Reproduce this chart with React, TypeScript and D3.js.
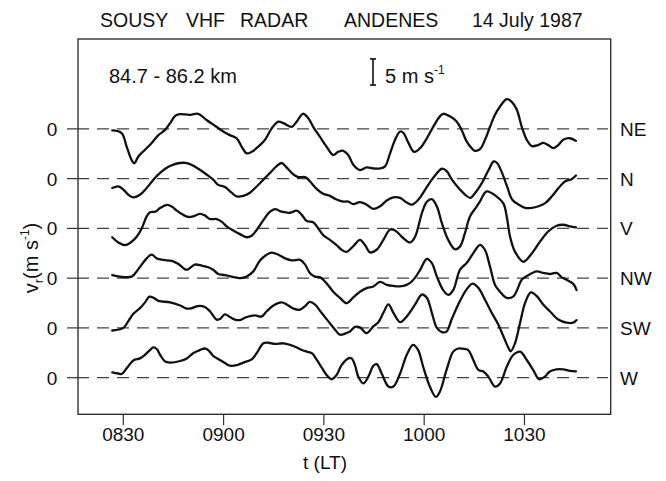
import React from "react";
import * as d3 from "d3";

// radar beam directions, top to bottom
const beams = ["NE", "N", "V", "NW", "SW", "W"];
// time axis, minutes after 08:00
const tickMinutes = [30, 60, 90, 120, 150];
const tickLabels = ["0830", "0900", "0930", "1000", "1030"];
// vertical separation between the zero lines (m/s)
const beamSpacing = 9.55;

// [minutes after 08:00, radial velocity in m/s]
const neData = [[26.7,-0.3],[29.5,-0.8],[31.0,-3.4],[32.5,-6.0],[33.3,-6.6],[34.5,-5.3],[36.5,-4.0],[38.5,-2.7],[40.5,-1.2],[42.5,-0.2],[44.0,1.1],[45.5,2.5],[46.5,2.8],[50.0,2.7],[52.4,2.9],[54.9,1.7],[57.4,0.6],[59.9,-0.5],[61.9,-1.2],[63.9,-1.8],[65.4,-3.4],[66.9,-4.7],[68.4,-4.4],[70.4,-3.4],[72.4,-2.1],[74.4,0.1],[76.4,1.4],[77.9,1.1],[80.4,0.4],[81.9,1.4],[83.7,2.9],[85.3,2.1],[86.8,0.4],[88.8,-1.5],[90.8,-3.4],[92.8,-5.0],[94.3,-4.4],[95.8,-4.2],[97.3,-5.0],[98.8,-6.9],[100.8,-7.9],[102.8,-7.4],[104.8,-7.6],[106.8,-7.6],[108.3,-7.2],[109.8,-4.7],[111.3,-2.1],[112.8,-0.5],[113.8,-0.8],[115.3,-2.7],[117.0,-4.4],[118.8,-3.7],[120.8,-1.8],[122.7,0.4],[124.7,2.4],[125.7,2.9],[127.7,2.4],[129.7,1.4],[131.2,-0.2],[132.7,-2.4],[134.2,-3.7],[135.2,-4.2],[136.7,-3.9],[138.2,-2.1],[139.7,0.4],[141.2,2.7],[142.7,4.3],[144.7,5.7],[146.2,5.2],[147.7,3.7],[149.2,0.4],[150.7,-2.1],[152.2,-3.3],[154.1,-3.1],[155.6,-2.7],[157.1,-3.1],[158.6,-3.7],[160.1,-3.1],[161.6,-2.1],[163.6,-1.8],[165.4,-2.3]];
const nData = [[26.7,-1.8],[28.5,-1.5],[30.0,-2.1],[31.5,-3.1],[33.0,-3.6],[35.0,-3.1],[37.0,-1.8],[39.0,-0.2],[41.0,1.1],[43.0,2.1],[45.0,2.7],[47.0,3.0],[49.0,3.0],[50.9,2.5],[52.9,1.7],[54.9,0.8],[56.9,-0.2],[58.4,-1.2],[60.4,-1.6],[62.4,-2.7],[63.9,-3.4],[65.9,-3.3],[67.9,-2.7],[69.9,-1.5],[71.9,-0.2],[73.9,1.1],[75.9,2.4],[77.4,3.0],[78.9,2.1],[80.9,0.8],[82.3,0.3],[84.4,0.3],[85.8,-0.5],[87.9,-2.0],[89.8,-2.9],[91.8,-3.3],[93.8,-4.0],[95.8,-4.4],[97.3,-4.4],[98.8,-4.9],[100.8,-4.5],[102.8,-5.0],[104.8,-5.8],[106.8,-5.3],[108.8,-4.2],[110.8,-3.6],[112.8,-3.7],[114.8,-4.6],[116.3,-5.0],[118.3,-4.0],[120.3,-2.1],[122.3,-0.2],[124.3,1.4],[125.3,1.9],[126.8,1.4],[128.3,-0.2],[130.3,-1.8],[132.3,-3.1],[133.8,-3.7],[135.3,-2.7],[137.3,-0.8],[139.3,1.7],[140.8,3.3],[141.8,3.0],[143.3,1.1],[144.8,-1.5],[146.3,-4.0],[148.3,-5.0],[150.2,-5.6],[152.2,-5.6],[154.2,-5.3],[156.2,-4.7],[158.2,-3.4],[160.2,-1.8],[162.2,-0.5],[164.1,-0.1],[165.4,0.6]];
const vData = [[26.7,-1.7],[28.5,-2.7],[30.5,-3.2],[32.0,-2.8],[34.0,-1.6],[35.5,0.0],[37.0,2.3],[38.0,3.1],[39.5,3.2],[41.0,3.9],[43.0,4.5],[44.5,4.2],[46.0,3.4],[47.9,2.6],[49.4,2.2],[50.9,2.3],[52.9,2.8],[54.4,2.5],[55.9,1.8],[57.9,1.8],[59.4,1.3],[60.9,0.4],[62.9,-0.4],[64.9,-1.1],[66.9,-1.7],[68.4,-1.4],[69.9,-0.3],[71.9,1.6],[73.9,3.2],[75.4,3.7],[77.4,3.2],[79.9,3.0],[81.9,3.4],[83.4,2.6],[84.9,1.4],[86.8,1.2],[88.3,0.0],[89.8,-1.3],[91.8,-2.2],[93.8,-3.2],[95.3,-4.1],[96.8,-4.5],[98.8,-3.4],[100.8,-2.2],[102.3,-3.2],[103.8,-4.6],[105.8,-4.1],[107.8,-2.2],[109.8,-0.2],[111.3,-0.4],[113.3,-1.6],[115.8,-2.7],[117.3,-1.6],[119.3,2.9],[120.8,5.1],[122.3,5.6],[123.8,4.2],[125.3,1.0],[127.2,-2.2],[129.2,-4.0],[130.7,-3.5],[132.2,-0.9],[133.7,2.3],[135.7,4.2],[136.7,5.2],[138.7,7.1],[141.7,6.1],[143.7,4.8],[144.7,2.3],[145.7,-1.6],[147.2,-4.5],[149.7,-6.4],[152.2,-4.8],[154.7,-2.5],[157.1,-0.6],[159.6,0.5],[161.6,0.7],[163.6,0.4],[165.4,0.2]];
const nwData = [[26.7,0.6],[29.0,0.3],[32.5,0.3],[34.0,1.3],[35.5,2.6],[37.0,3.8],[38.5,4.5],[40.0,3.8],[42.0,3.5],[44.5,3.3],[46.5,2.7],[48.5,1.7],[49.4,1.7],[51.4,2.6],[53.5,2.4],[55.4,2.1],[56.9,1.6],[58.4,0.8],[60.4,0.6],[62.4,0.3],[64.9,0.0],[66.9,0.3],[68.9,1.3],[70.9,3.4],[72.9,4.5],[74.4,4.9],[76.4,4.5],[78.4,3.8],[80.4,3.4],[82.9,3.5],[84.4,2.6],[85.8,1.0],[87.3,0.3],[88.8,0.2],[90.8,-1.0],[92.8,-2.6],[94.8,-3.8],[96.8,-4.8],[98.8,-3.7],[100.8,-2.6],[102.8,-1.9],[104.8,-1.6],[106.8,-0.7],[108.8,-1.3],[110.8,-1.5],[113.8,-1.5],[115.8,-0.9],[117.3,0.1],[118.8,1.6],[120.8,3.7],[122.3,2.9],[123.8,0.3],[125.7,-2.3],[127.2,-3.2],[128.7,-2.3],[130.7,1.6],[132.7,2.9],[134.7,4.8],[136.7,6.4],[138.2,5.4],[139.7,2.2],[141.2,-1.3],[142.7,-2.6],[144.7,-3.8],[146.7,-3.5],[149.2,-0.3],[150.7,0.4],[153.7,1.3],[155.6,1.0],[157.6,0.8],[159.6,1.0],[161.1,0.2],[162.6,-0.3],[164.6,-1.1],[165.6,-2.3]];
const swData = [[26.7,-0.5],[30.0,0.0],[31.5,1.3],[33.0,2.7],[35.0,3.8],[36.5,4.9],[37.8,6.0],[39.0,5.8],[40.5,5.2],[44.0,4.9],[47.0,4.3],[49.0,3.7],[50.5,3.8],[52.4,4.2],[54.4,4.0],[55.9,3.2],[57.9,1.6],[58.9,1.7],[60.4,2.6],[61.9,2.1],[63.4,1.6],[64.9,1.5],[66.9,2.1],[69.4,2.4],[71.4,2.2],[72.9,3.2],[74.9,4.3],[77.4,4.9],[78.9,4.5],[80.9,3.7],[82.9,3.5],[84.4,4.2],[85.8,5.0],[87.3,4.5],[89.3,2.9],[91.3,1.3],[93.3,-0.3],[94.8,-1.3],[96.3,-1.1],[97.8,-0.7],[99.3,0.2],[100.8,0.1],[102.8,-1.0],[104.8,0.3],[106.3,1.1],[107.8,2.9],[109.3,4.5],[110.8,2.9],[112.8,1.1],[114.8,2.2],[117.3,4.5],[119.3,6.4],[120.8,5.8],[122.3,2.9],[123.8,0.0],[125.3,-0.8],[126.7,-0.7],[128.2,1.6],[130.2,4.5],[132.7,7.4],[134.5,8.5],[136.2,7.7],[138.2,5.4],[140.2,2.9],[142.2,0.6],[143.7,-1.6],[145.2,-3.8],[145.9,-4.5],[147.2,-2.9],[148.7,1.0],[150.2,4.8],[151.9,6.8],[153.7,6.1],[155.6,4.5],[157.6,3.2],[160.1,1.6],[162.6,1.0],[164.6,1.0],[165.6,1.5]];
const wData = [[26.7,1.0],[28.5,0.8],[29.5,0.7],[31.0,1.8],[33.0,3.3],[35.0,3.7],[36.5,4.4],[38.0,5.3],[39.0,5.8],[40.0,5.5],[41.0,4.4],[42.5,3.1],[44.0,2.9],[47.0,3.2],[49.0,3.7],[50.9,4.7],[52.9,5.3],[54.4,5.6],[55.4,5.3],[56.9,4.2],[58.9,3.4],[60.4,2.8],[61.9,2.3],[63.9,2.4],[65.9,2.9],[68.4,3.5],[69.9,4.7],[71.9,6.6],[73.4,6.7],[75.4,6.5],[77.9,6.6],[79.9,6.3],[81.9,5.8],[83.4,5.3],[84.9,5.0],[86.4,4.7],[87.9,3.4],[89.3,2.0],[90.8,0.5],[92.3,-0.3],[93.8,0.5],[95.3,2.4],[97.3,3.7],[98.3,3.7],[99.3,2.4],[100.3,0.2],[101.8,-1.1],[103.3,0.2],[104.8,2.3],[105.8,2.6],[107.3,0.8],[109.3,-1.7],[110.8,-1.7],[112.8,0.8],[114.8,4.4],[116.7,6.3],[118.2,5.3],[119.7,2.1],[121.7,-1.7],[123.5,-3.7],[124.7,-2.7],[126.7,1.5],[128.7,5.0],[130.2,5.6],[132.2,5.5],[133.2,5.3],[134.7,3.4],[136.2,1.5],[137.7,1.2],[139.2,0.2],[141.2,-1.7],[142.7,-1.1],[144.7,2.1],[146.7,4.4],[148.7,5.0],[150.7,3.4],[152.6,1.5],[154.4,-0.3],[156.1,0.2],[157.6,1.2],[159.6,1.6],[161.6,1.6],[163.6,1.3],[165.4,1.2]];

const series = [neData, nData, vData, nwData, swData, wData];

const font = "'Liberation Sans', Arial, Helvetica, sans-serif";

export default function App() {
  const width = 666;
  const height = 481;
  const left = 78, right = 610.7, top = 39, bottom = 414.3;

  const x = d3.scaleLinear().domain([16.45, 175.8]).range([left, right]);
  const y = d3.scaleLinear().domain([-7.03, 65]).range([bottom, top]);

  const offset = (i: number) => (beams.length - 1 - i) * beamSpacing;
  const line = (i: number) =>
    d3.line<number[]>()
      .x(d => x(d[0]))
      .y(d => y(d[1] + offset(i)))
      .curve(d3.curveCatmullRom.alpha(0.5));

  const barLen = y(0) - y(5);
  const barBottom = 85;

  return (
    <div style={{ position: "absolute", left: 0, top: 0 }}>
      <svg width={width} height={height} style={{ display: "block", background: "#fff" }}
        fontFamily={font}>
        {/* title */}
        <g fontSize={19.5} fill="#111">
          <text x={100} y={27}>SOUSY</text>
          <text x={186} y={27}>VHF</text>
          <text x={240} y={27}>RADAR</text>
          <text x={344} y={27}>ANDENES</text>
          <text x={472} y={27}>14 July 1987</text>
        </g>

        {/* frame */}
        <rect x={left} y={top} width={right - left} height={bottom - top}
          fill="none" stroke="#222" strokeWidth={1.3} />

        <text x={109} y={83} fontSize={20} fill="#111">84.7 - 86.2 km</text>

        {/* 5 m/s scale bar */}
        <g stroke="#111" strokeWidth={1.6}>
          <line x1={373} x2={373} y1={barBottom - barLen} y2={barBottom} />
          <line x1={370} x2={376} y1={barBottom - barLen} y2={barBottom - barLen} />
          <line x1={370} x2={376} y1={barBottom} y2={barBottom} />
        </g>
        <text x={385} y={83} fontSize={20} fill="#111">
          5 m s<tspan fontSize={12} dy={-9}>-1</tspan>
        </text>

        {/* zero lines, ticks and labels */}
        {beams.map((b, i) => {
          const y0 = y(offset(i));
          return (
            <g key={b}>
              <line x1={left - 11} x2={left + 10} y1={y0} y2={y0} stroke="#333" strokeWidth={1.2} />
              <line x1={88} x2={608} y1={y0} y2={y0} stroke="#444" strokeWidth={1.3}
                strokeDasharray="12 8" strokeDashoffset={-9} />
              <text x={52} y={y0 + 7} fontSize={19} textAnchor="middle" fill="#111">0</text>
              <text x={620} y={y0 + 7} fontSize={19} fill="#111">{b}</text>
            </g>
          );
        })}

        {/* velocity traces */}
        {series.map((s, i) => (
          <path key={beams[i]} d={line(i)(s) || ""} fill="none" stroke="#111"
            strokeWidth={2.3} strokeLinejoin="round" strokeLinecap="round" />
        ))}

        {/* time axis */}
        {tickMinutes.map((t, i) => (
          <g key={t}>
            <line x1={x(t)} x2={x(t)} y1={bottom} y2={bottom + 11} stroke="#333" strokeWidth={1.2} />
            <text x={x(t)} y={441} fontSize={19} textAnchor="middle" fill="#111">{tickLabels[i]}</text>
          </g>
        ))}
        <text x={325} y={469} fontSize={19} textAnchor="middle" fill="#111">t (LT)</text>

        <text transform="translate(38,258) rotate(-90)" fontSize={20} textAnchor="middle" fill="#111">
          v<tspan fontSize={13} dy={5}>r</tspan><tspan dy={-5}>(m s</tspan><tspan fontSize={12} dy={-9}>-1</tspan><tspan dy={9}>)</tspan>
        </text>
      </svg>
    </div>
  );
}
